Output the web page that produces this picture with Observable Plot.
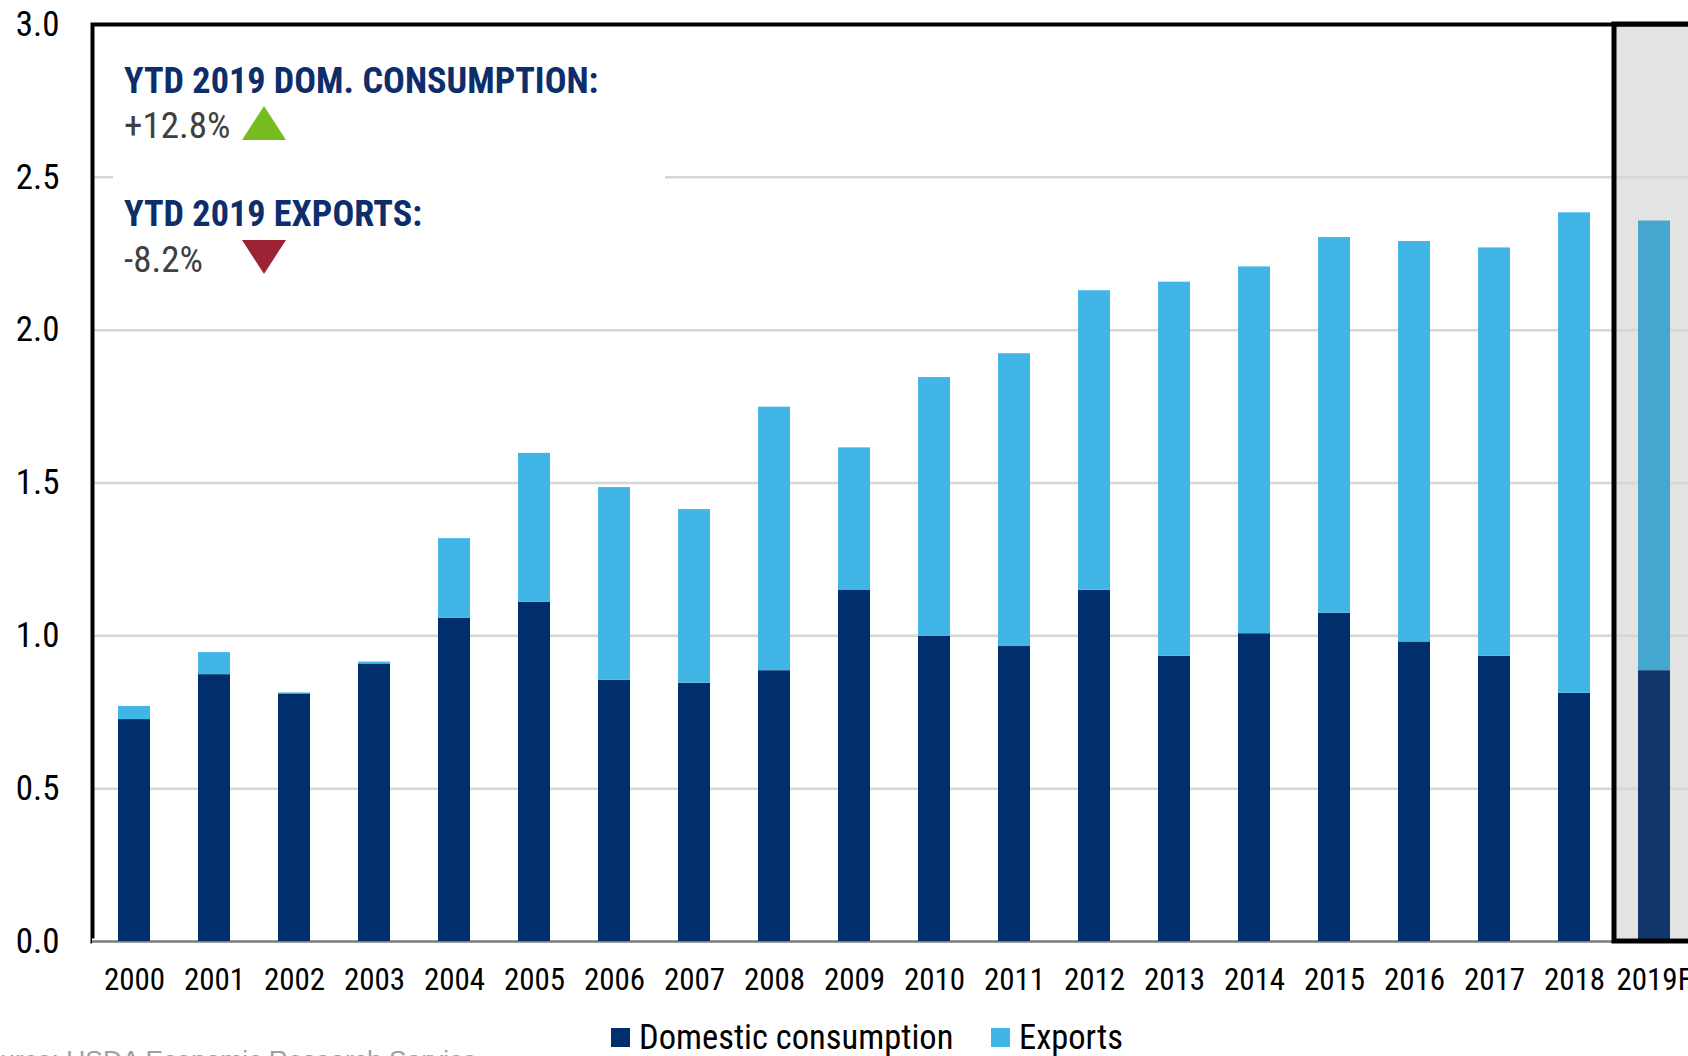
<!DOCTYPE html>
<html><head><meta charset="utf-8">
<script src="https://cdn.jsdelivr.net/npm/d3@7"></script>
<script src="https://cdn.jsdelivr.net/npm/@observablehq/plot@0.6"></script>
<style>
html,body{margin:0;padding:0;background:#fff;overflow:hidden;width:1688px;height:1056px;}
#wrap{position:relative;width:1688px;height:1056px;overflow:hidden;font-family:"Liberation Sans Narrow","Arial Narrow","Roboto Condensed","DejaVu Sans Condensed",sans-serif;}
#chart{position:absolute;left:0;top:0;width:1695px;}
#chart svg{max-width:none !important;}
.abs{position:absolute;white-space:nowrap;line-height:1;}
#notebox{position:absolute;left:113px;top:45px;width:552px;height:250px;background:#fff;}
.ntitle{font-size:36.2px;font-weight:bold;color:#0d2d6b;}
.nval{font-size:37px;color:#404040;}
.tri{position:absolute;width:0;height:0;border-left:22.5px solid transparent;border-right:22.5px solid transparent;}
.leg{font-size:34.5px;color:#000;}
.sw{position:absolute;width:19px;height:19px;}
#source{font-family:"Liberation Sans",Arial,sans-serif;font-size:26.4px;color:#a0a0a0;}
g[aria-label="forecast-box"] rect{filter:drop-shadow(-2px 3px 3px rgba(0,0,0,0.35));}
</style></head><body><div id="wrap"><div id="chart"></div></div>
<script>
const years = ["2000","2001","2002","2003","2004","2005","2006","2007","2008","2009","2010","2011","2012","2013","2014","2015","2016","2017","2018","2019F"];
const domestic = [0.726,0.873,0.810,0.908,1.058,1.110,0.855,0.845,0.886,1.150,0.999,0.965,1.149,0.933,1.007,1.074,0.980,0.933,0.812,0.886];
const exportsVals = [0.043,0.072,0.003,0.006,0.260,0.487,0.630,0.568,0.862,0.465,0.846,0.958,0.980,1.224,1.200,1.229,1.310,1.336,1.572,1.471];
const yTicks = [0,0.5,1,1.5,2,2.5,3];
const gridTicks = [0.5,1,1.5,2,2.5];
const seriesNames = ["Domestic consumption","Exports"];
const seriesColors = ["#002f6c","#41b6e6"];
const forecastColors = ["#10366a","#45a6d0"];
const forecastYear = "2019F";
const notes = [
  {title:"YTD 2019 DOM. CONSUMPTION:", change:"+12.8%", dir:"up", color:"#77bc1f"},
  {title:"YTD 2019 EXPORTS:", change:"-8.2%", dir:"down", color:"#9b2335"}
];
const sourceText = "Source: USDA Economic Research Service";

const rows = years.flatMap((yr,i)=>[
  {year:yr, series:seriesNames[0], value:domestic[i]},
  {year:yr, series:seriesNames[1], value:exportsVals[i]}
]);
const colorOf = d => (d.year===forecastYear ? forecastColors : seriesColors)[seriesNames.indexOf(d.series)];

const plot = Plot.plot({
  width:1695, height:1005,
  marginLeft:92, marginRight:0, marginTop:24, marginBottom:64,
  style:{fontFamily:'"Liberation Sans Narrow","Arial Narrow","Roboto Condensed","DejaVu Sans Condensed",sans-serif', color:"#000", background:"transparent", overflow:"visible", maxWidth:"none"},
  x:{type:"band", domain:years, paddingInner:0.6, paddingOuter:0.3, label:null},
  y:{domain:[0,3], range:[941,24], label:null},
  marks:[
    Plot.barY([forecastYear], {x:d=>d, y1:0, y2:3, fill:"#e3e3e3", insetLeft:-24, insetRight:-24, ariaLabel:"forecast-box"}),
    Plot.ruleY(gridTicks, {stroke:"#d6d6d6", strokeWidth:2.5}),
    Plot.frame({stroke:"#000", strokeWidth:4}),
    Plot.ruleY([0], {stroke:"#fff", strokeWidth:6}),
    Plot.ruleY([0], {stroke:"#7a7a7a", strokeWidth:2.5}),
    Plot.barY(rows, {x:"year", y:"value", z:"series", fill:colorOf}),
    Plot.barY([forecastYear], {x:d=>d, y1:0, y2:3, fill:"none", stroke:"#000", strokeWidth:5, insetLeft:-24, insetRight:-24}),
    Plot.axisY({ticks:yTicks, tickFormat:d3.format(".1f"), tickSize:0, tickPadding:33, fontSize:35, label:null}),
    Plot.axisX({tickSize:0, tickPadding:26, fontSize:31, label:null})
  ]
});
document.getElementById("chart").appendChild(plot);

const wrap = document.getElementById("wrap");
function add(html){ wrap.insertAdjacentHTML("beforeend", html); }
add('<div id="notebox"></div>');
const titleTops = [62.7, 195.7], valTops = [106.7, 240.7], triTops = [106, 239.5];
notes.forEach((n,i)=>{
  add(`<div class="abs ntitle" style="left:124px;top:${titleTops[i]}px">${n.title}</div>`);
  add(`<div class="abs nval" style="left:124px;top:${valTops[i]}px">${n.change}</div>`);
  const b = n.dir==="up" ? `border-bottom:34px solid ${n.color}` : `border-top:34px solid ${n.color}`;
  add(`<div class="tri" style="left:242px;top:${triTops[i]}px;${b}"></div>`);
});
// legend
const legX = [611, 991];
seriesNames.forEach((s,i)=>{
  add(`<div class="sw" style="left:${legX[i]}px;top:1028px;background:${seriesColors[i]}"></div>`);
  add(`<div class="abs leg" style="left:${legX[i]+28}px;top:1019.5px">${s}</div>`);
});
add(`<div class="abs" id="source" style="left:-32px;top:1046.6px">${sourceText}</div>`);
</script>
</body></html>
